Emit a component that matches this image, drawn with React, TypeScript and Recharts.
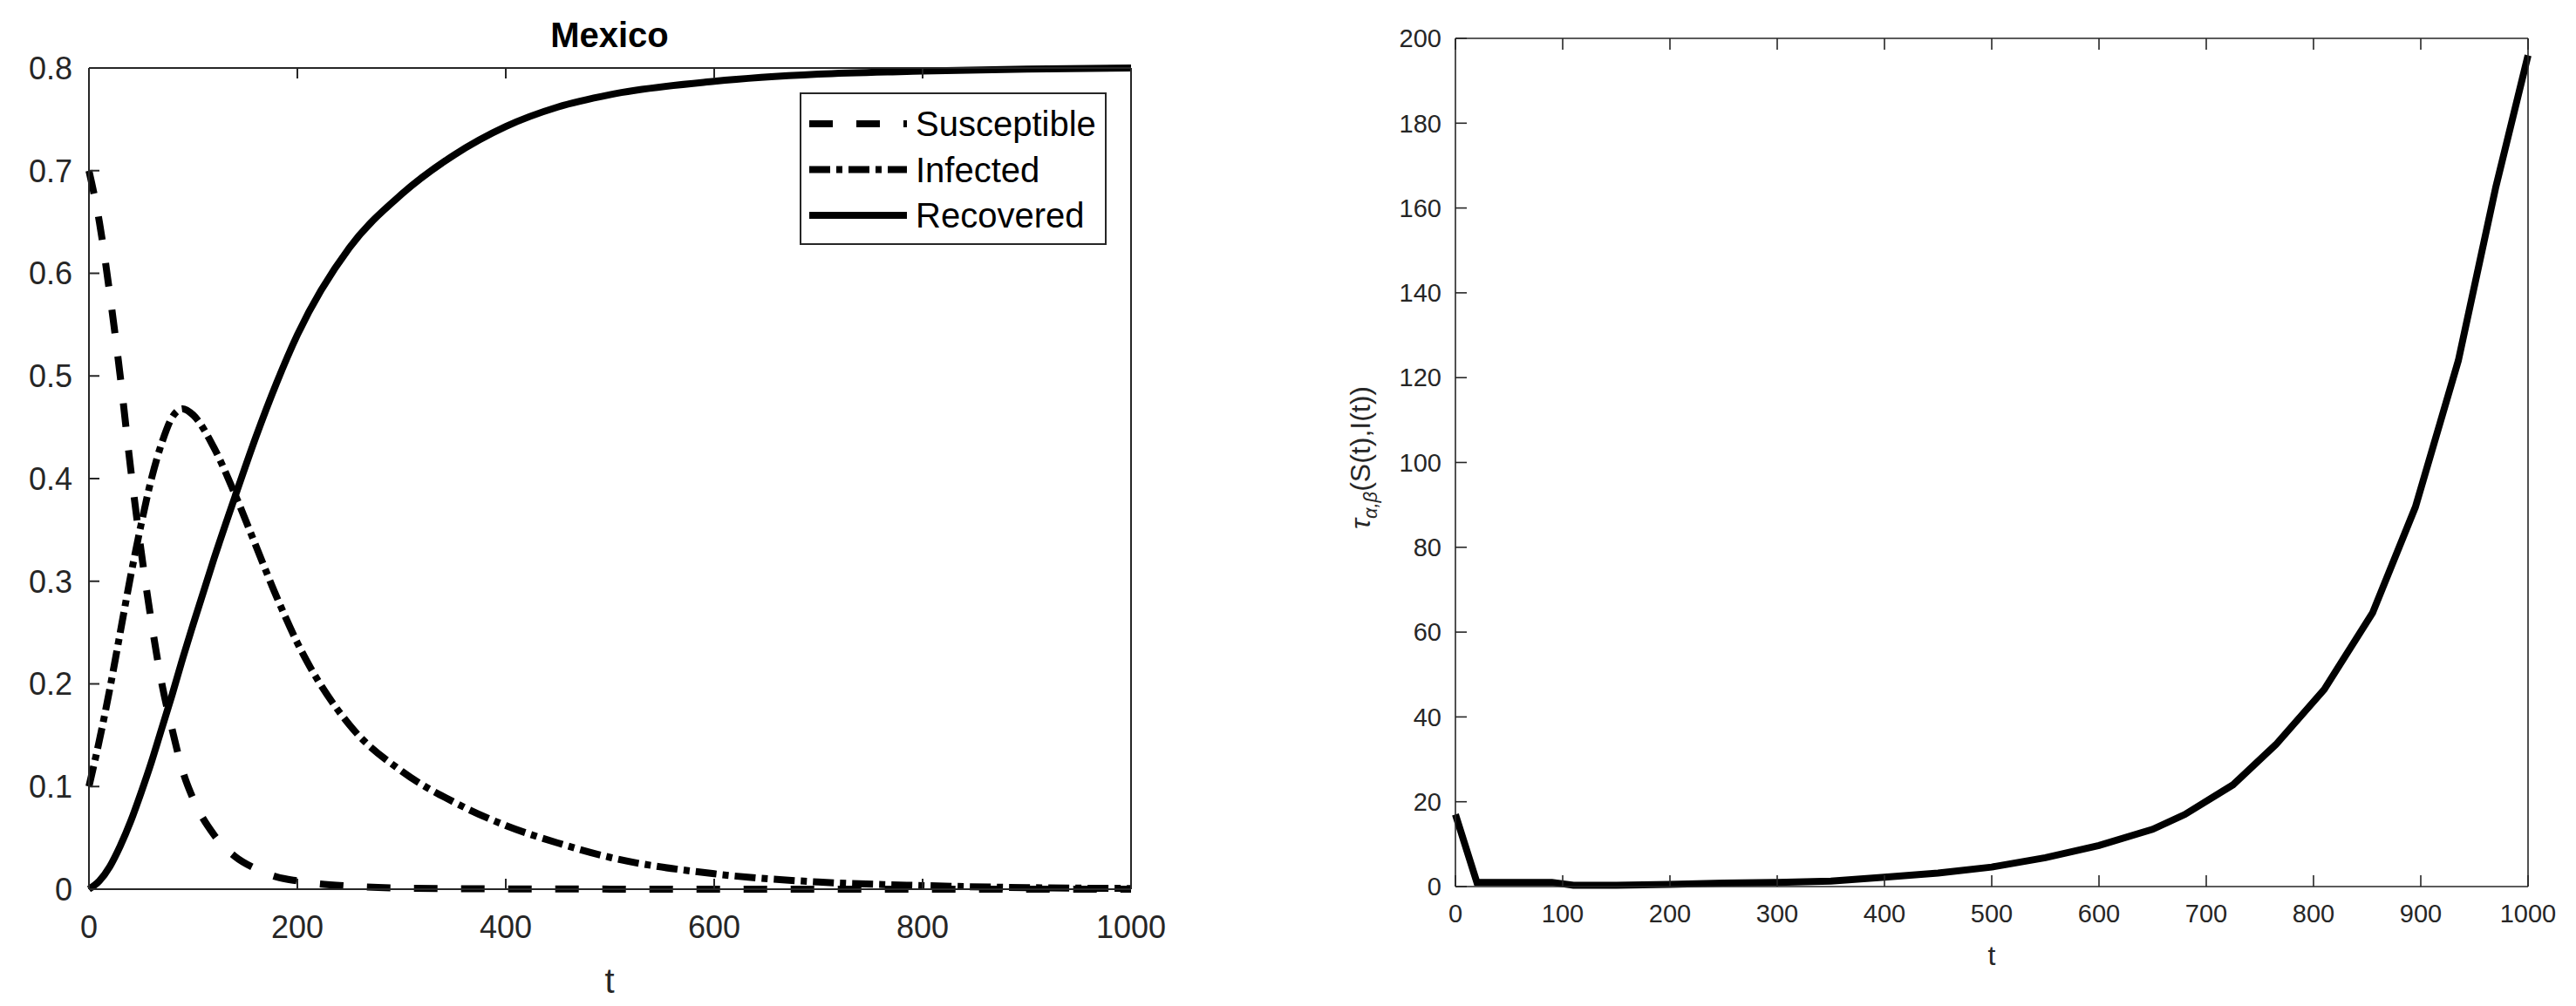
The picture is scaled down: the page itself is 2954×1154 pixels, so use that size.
import React from 'react';
import { LineChart, Line, XAxis, YAxis } from 'recharts';

// left panel: SIR curves for Mexico
const tLeft = [0, 10, 20, 30, 40, 50, 60, 70, 80, 90, 100, 120, 140, 160, 180, 200, 250, 300, 350, 400, 450, 500, 600, 700, 800, 900, 1000];
const susceptible = [0.7, 0.65, 0.58, 0.5, 0.41, 0.33, 0.26, 0.2, 0.155, 0.115, 0.088, 0.053, 0.032, 0.02, 0.012, 0.008, 0.003, 0.001, 0.0005, 0.0003, 0.0002, 0.0001, 0, 0, 0, 0, 0];
const infected = [0.1, 0.145, 0.195, 0.25, 0.305, 0.355, 0.4, 0.435, 0.46, 0.468, 0.462, 0.43, 0.385, 0.335, 0.285, 0.24, 0.16, 0.115, 0.085, 0.062, 0.045, 0.031, 0.015, 0.007, 0.0035, 0.0015, 0.0007];
const recovered = [0, 0.008, 0.022, 0.042, 0.066, 0.094, 0.124, 0.157, 0.19, 0.225, 0.258, 0.322, 0.382, 0.44, 0.493, 0.54, 0.625, 0.677, 0.715, 0.743, 0.762, 0.774, 0.787, 0.794, 0.797, 0.799, 0.8];
const leftXTicks = [0, 200, 400, 600, 800, 1000];
const leftYTicks = [0, 0.1, 0.2, 0.3, 0.4, 0.5, 0.6, 0.7, 0.8];

// right panel: tau_{alpha,beta}(S(t), I(t))
const tRight = [0, 20, 90, 110, 150, 200, 250, 300, 350, 400, 450, 500, 550, 600, 650, 680, 725, 765, 810, 855, 895, 935, 970, 1000];
const tau = [17, 1.0, 1.0, 0.3, 0.3, 0.5, 0.8, 1.0, 1.3, 2.2, 3.2, 4.6, 6.8, 9.7, 13.5, 17, 24, 33.5, 46.5, 64.5, 89.5, 124, 165, 196];
const rightXTicks = [0, 100, 200, 300, 400, 500, 600, 700, 800, 900, 1000];
const rightYTicks = [0, 20, 40, 60, 80, 100, 120, 140, 160, 180, 200];

const FONT = '"Liberation Sans", Arial, Helvetica, sans-serif';
const AXIS = '#262626';
const S_DASH = '27 27';
const I_DASH = '24 7 7 7';

const leftRows = tLeft.map((t, i) => ({
  t,
  susceptible: susceptible[i],
  infected: infected[i],
  recovered: recovered[i],
}));
const rightRows = tRight.map((t, i) => ({ t, tau: tau[i] }));

const blank = () => '';

const LeftPanel = () => {
  const line = { stroke: AXIS, strokeWidth: 2 };
  return (
    <LineChart width={1400} height={1154} data={leftRows} margin={{ top: 77, right: 102, bottom: 0, left: 0 }}>
      <XAxis
        dataKey="t"
        type="number"
        domain={[0, 1000]}
        ticks={leftXTicks}
        interval={0}
        height={134}
        tickSize={-12}
        tickMargin={42}
        axisLine={line}
        tickLine={line}
        tick={{ fill: AXIS, fontSize: 36, fontFamily: FONT }}
      />
      <XAxis
        xAxisId="top"
        orientation="top"
        dataKey="t"
        type="number"
        domain={[0, 1000]}
        ticks={leftXTicks}
        interval={0}
        height={1}
        tickSize={-12}
        tickFormatter={blank}
        axisLine={line}
        tickLine={line}
      />
      <YAxis
        type="number"
        domain={[0, 0.8]}
        ticks={leftYTicks}
        interval={0}
        width={102}
        tickSize={-12}
        tickMargin={31}
        tickFormatter={(v: number) => String(v)}
        axisLine={line}
        tickLine={line}
        tick={{ fill: AXIS, fontSize: 36, fontFamily: FONT }}
      />
      <YAxis
        yAxisId="right"
        orientation="right"
        type="number"
        domain={[0, 0.8]}
        ticks={leftYTicks}
        interval={0}
        width={1}
        tickSize={-12}
        tickFormatter={blank}
        axisLine={line}
        tickLine={line}
      />
      <Line type="monotone" dataKey="susceptible" stroke="#000" strokeWidth={8} strokeDasharray={S_DASH} dot={false} activeDot={false} isAnimationActive={false} />
      <Line type="monotone" dataKey="infected" stroke="#000" strokeWidth={8} strokeDasharray={I_DASH} dot={false} activeDot={false} isAnimationActive={false} />
      <Line type="monotone" dataKey="recovered" stroke="#000" strokeWidth={8} dot={false} activeDot={false} isAnimationActive={false} />
    </LineChart>
  );
};

const RightPanel = () => {
  const line = { stroke: AXIS, strokeWidth: 1.6 };
  return (
    <LineChart width={1414} height={1154} data={rightRows} margin={{ top: 43, right: 54, bottom: 0, left: 0 }}>
      <XAxis
        dataKey="t"
        type="number"
        domain={[0, 1000]}
        ticks={rightXTicks}
        interval={0}
        height={137}
        tickSize={-13}
        tickMargin={33}
        axisLine={line}
        tickLine={line}
        tick={{ fill: AXIS, fontSize: 29, fontFamily: FONT }}
      />
      <XAxis
        xAxisId="top"
        orientation="top"
        dataKey="t"
        type="number"
        domain={[0, 1000]}
        ticks={rightXTicks}
        interval={0}
        height={1}
        tickSize={-13}
        tickFormatter={blank}
        axisLine={line}
        tickLine={line}
      />
      <YAxis
        type="number"
        domain={[0, 200]}
        ticks={rightYTicks}
        interval={0}
        width={129}
        tickSize={-13}
        tickMargin={29}
        axisLine={line}
        tickLine={line}
        tick={{ fill: AXIS, fontSize: 29, fontFamily: FONT }}
      />
      <YAxis
        yAxisId="right"
        orientation="right"
        type="number"
        domain={[0, 200]}
        ticks={rightYTicks}
        interval={0}
        width={1}
        tickSize={-13}
        tickFormatter={blank}
        axisLine={line}
        tickLine={line}
      />
      <Line type="linear" dataKey="tau" stroke="#000" strokeWidth={8} dot={false} activeDot={false} isAnimationActive={false} />
    </LineChart>
  );
};

const legendItems = [
  { label: 'Susceptible', dash: S_DASH },
  { label: 'Infected', dash: I_DASH },
  { label: 'Recovered', dash: undefined },
];

const Annotations = () => (
  <svg width={2954} height={1154} style={{ position: 'absolute', left: 0, top: 0, pointerEvents: 'none' }}>
    <text x={699} y={54} textAnchor="middle" fontFamily={FONT} fontWeight="bold" fontSize={40} fill="#000">
      Mexico
    </text>
    <text x={699} y={1139} textAnchor="middle" fontFamily={FONT} fontSize={40} fill={AXIS}>
      t
    </text>
    <text x={2284} y={1107} textAnchor="middle" fontFamily={FONT} fontSize={32} fill={AXIS}>
      t
    </text>
    <text
      transform="translate(1571,525) rotate(-90)"
      textAnchor="middle"
      fontFamily={FONT}
      fontSize={32}
      fill={AXIS}
    >
      <tspan fontStyle="italic">τ</tspan>
      <tspan fontSize={22} fontStyle="italic" dy={8}>α,β</tspan>
      <tspan dy={-8}>(S(t),I(t))</tspan>
    </text>
    <rect x={918} y={107} width={350} height={173} fill="#fff" stroke={AXIS} strokeWidth={2} />
    {legendItems.map((item, i) => {
      const y = 142 + i * 52.5;
      return (
        <g key={item.label}>
          <line x1={928} x2={1040} y1={y} y2={y} stroke="#000" strokeWidth={8} strokeDasharray={item.dash} />
          <text x={1050} y={y} dy="0.36em" fontFamily={FONT} fontSize={40} fill="#000">
            {item.label}
          </text>
        </g>
      );
    })}
  </svg>
);

export default function App() {
  return (
    <div style={{ position: 'absolute', left: 0, top: 0, width: 2954, height: 1154, background: '#fff' }}>
      <div style={{ position: 'absolute', left: 0, top: 0 }}>
        <LeftPanel />
      </div>
      <div style={{ position: 'absolute', left: 1540, top: 0 }}>
        <RightPanel />
      </div>
      <Annotations />
    </div>
  );
}
